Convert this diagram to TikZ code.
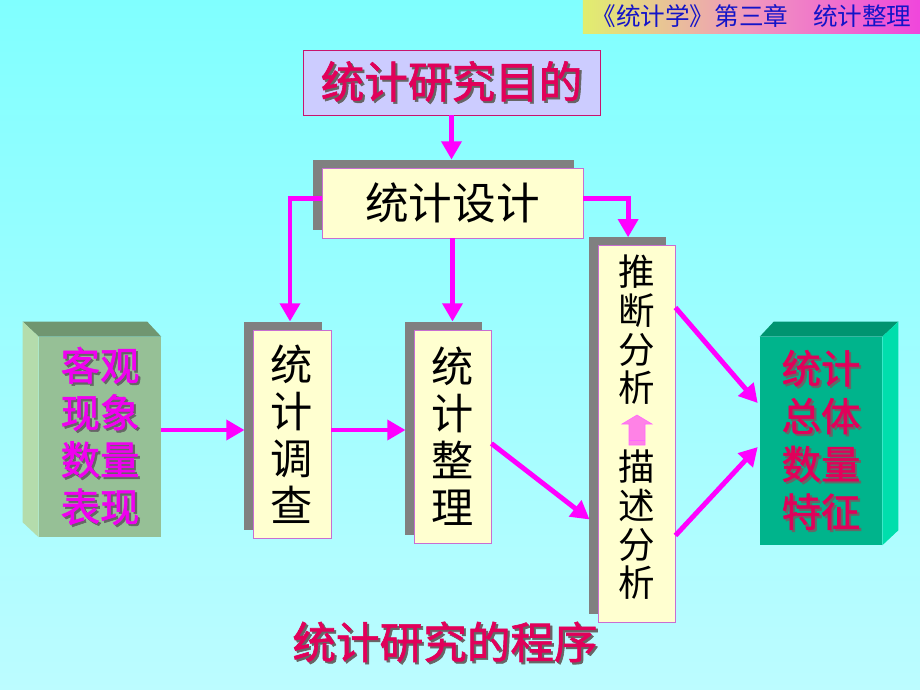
\documentclass[tikz,border=0pt]{standalone}
\usepackage{fontspec}
\setmainfont{Noto Sans CJK SC}
\newfontfamily\heiti[FakeBold=1.4]{Noto Sans CJK SC}
\usetikzlibrary{calc,arrows.meta,shadows}

\definecolor{bgtop}{RGB}{128,255,255}
\definecolor{bgbottom}{RGB}{188,252,255}
\definecolor{flowmag}{RGB}{255,0,255}
\definecolor{crimson}{RGB}{225,0,90}
\definecolor{textmag}{RGB}{240,0,240}
\definecolor{goalfill}{RGB}{204,204,255}
\definecolor{goaledge}{RGB}{200,20,110}
\definecolor{cream}{RGB}{255,255,208}
\definecolor{boxedge}{RGB}{200,110,210}
\definecolor{sagefront}{RGB}{150,192,150}
\definecolor{sagetop}{RGB}{112,150,112}
\definecolor{sageside}{RGB}{180,220,172}
\definecolor{tealfront}{RGB}{0,180,140}
\definecolor{tealtop}{RGB}{0,148,112}
\definecolor{tealside}{RGB}{0,222,172}
\definecolor{hdrleft}{RGB}{225,238,110}
\definecolor{hdrmid}{RGB}{240,150,190}
\definecolor{hdrright}{RGB}{240,70,220}
\definecolor{hdrblue}{RGB}{20,20,200}
\definecolor{arrowpink}{RGB}{255,130,230}

\newcommand{\shtext}[2]{\makebox[0pt][l]{\hspace{1.5pt}\raisebox{-1.5pt}{\textcolor{black!60}{#2}}}\textcolor{#1}{#2}}

\begin{document}
\begin{tikzpicture}[x=0.025cm,y=-0.025cm]

\tikzstyle{stepbox} = [rectangle, draw=boxedge, fill=cream, line width=0.6pt, inner sep=0, align=center, text=black, drop shadow={shadow xshift=-0.22cm, shadow yshift=0.2cm, opacity=1, fill=black!50}]
\tikzstyle{coltext} = [align=center, inner sep=0, text=black, font=\fontsize{26}{27.5}\selectfont]
\tikzstyle{solid3d} = [rectangle, inner sep=0, minimum width=3.05cm, align=center, font=\heiti\fontsize{28}{33.5}\selectfont]
\tikzstyle{flow} = [-{Triangle[length=13pt,width=14pt]}, line width=3.5pt, draw=flowmag]

\useasboundingbox (0,0) rectangle (920,690);
\fill[top color=bgtop, bottom color=bgbottom] (0,0) rectangle (920,690);

\node[rectangle, inner sep=0, minimum width=8.425cm, minimum height=0.825cm, left color=hdrleft, right color=hdrright, middle color=hdrmid, text=hdrblue, font=\fontsize{17.5}{17.5}\selectfont] (chapter) at (751.5,16.5) {《统计学》第三章　统计整理};

\node[rectangle, draw=goaledge, fill=goalfill, line width=0.6pt, inner sep=0, minimum width=7.425cm, minimum height=1.625cm, font=\heiti\fontsize{31}{31}\selectfont] (goal) at (451.5,82.5) {\shtext{crimson}{统计研究目的}};

\node[stepbox, minimum width=6.525cm, minimum height=1.75cm, font=\fontsize{31}{31}\selectfont] (design) at (452.5,203) {统计设计};

\node[stepbox, minimum width=1.95cm, minimum height=5.2cm, font=\fontsize{30}{33.5}\selectfont] (survey) at (292,434) {统\\计\\调\\查};
\node[stepbox, minimum width=1.925cm, minimum height=5.325cm, font=\fontsize{30}{33.5}\selectfont] (sort) at (452.5,436.5) {统\\计\\整\\理};
\node[stepbox, minimum width=1.925cm, minimum height=9.425cm] (analysis) at (636.5,433.5) {};
\node[coltext] (infer) at (636.5,330) {推\\断\\分\\析};
\node[coltext] (describe) at (636.5,525) {描\\述\\分\\析};
\filldraw[fill=arrowpink, draw=flowmag!60, line width=0.4pt] (637,415) -- (652,424) -- (645,424) -- (645,445) -- (629,445) -- (629,424) -- (622,424) -- cycle;
\draw[flowmag!60, line width=0.4pt] (629,440) -- (645,440);

% solid boxes
\node[solid3d, fill=sagefront, minimum height=5cm] (objective) at (100,437) {\shtext{textmag}{客观}\\\shtext{textmag}{现象}\\\shtext{textmag}{数量}\\\shtext{textmag}{表现}};
\fill[sagetop] (objective.north west) -- ++(-16,-15) -- ($(objective.north east)+(-14,-15)$) -- (objective.north east) -- cycle;
\fill[sageside] (objective.north west) -- ++(-16,-15) -- ($(objective.south west)+(-16,-15)$) -- (objective.south west) -- cycle;

\node[solid3d, fill=tealfront, minimum height=5.2cm, font=\heiti\fontsize{28}{34}\selectfont] (feature) at (821,441) {\shtext{crimson}{统计}\\\shtext{crimson}{总体}\\\shtext{crimson}{数量}\\\shtext{crimson}{特征}};
\fill[tealtop] (feature.north west) -- ++(14,-15) -- ($(feature.north east)+(16,-15)$) -- (feature.north east) -- cycle;
\fill[tealside] (feature.north east) -- ++(16,-15) -- ($(feature.south east)+(16,-15)$) -- (feature.south east) -- cycle;

% connectors
\draw[flow, shorten >=0.2cm] (goal) -- (goal.south |- design.north);
\draw[flow, shorten >=0.2cm] ([yshift=0.12cm]design.west) -| ([xshift=-0.05cm]survey.north);
\draw[flow, shorten >=0.18cm] ([yshift=0.12cm]design.east) -| ([xshift=-0.21cm]analysis.north);
\draw[flow, shorten >=0.2cm] (design) -- (design.south |- sort.north);
\draw[flow, shorten >=0.2cm] ($(objective.east)+(0,-7)$) -- ($(survey.west)+(0,-4)$);
\draw[flow, shorten >=0.2cm] ($(survey.east)+(0,-4)$) -- ($(sort.west)+(0,-6.5)$);
\draw[flow] ($(sort.east)+(0,7)$) -- ($(analysis.west)+(-8,86)$);
\draw[flow] ($(analysis.east)+(0,-126)$) -- ($(feature.west)+(-2,-38)$);
\draw[flow] ($(analysis.east)+(0,102)$) -- ($(feature.west)+(-2,6)$);

\node[inner sep=0, font=\heiti\fontsize{31}{31}\selectfont] (caption) at (445,643) {\shtext{crimson}{统计研究的程序}};

\end{tikzpicture}
\end{document}
